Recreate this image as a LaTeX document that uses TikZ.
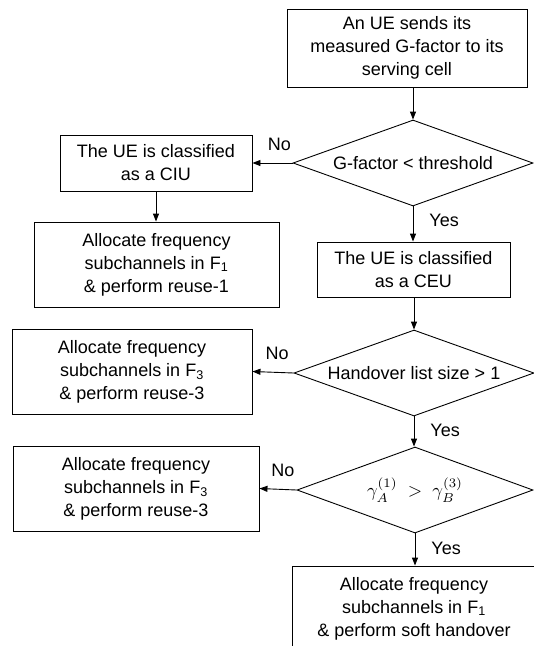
\documentclass[tikz,border=0pt]{standalone}
\usepackage{fontspec}
\setmainfont{Liberation Sans}
\usetikzlibrary{shapes.geometric,arrows.meta}

\tikzset{
    box/.style={draw, align=center, inner sep=2pt},
    test/.style={draw, diamond, aspect=2.8, inner sep=0pt, minimum width=240pt, minimum height=86pt},
    answer/.style={inner sep=0pt}
}

\begin{document}
\begin{tikzpicture}[x=1pt, y=-1pt, line width=0.9pt, >={Triangle[length=8pt,width=6pt]},
                    font=\fontsize{18}{23}\selectfont]

            \useasboundingbox (0,0) rectangle (534,646);
            \clip (0,0) rectangle (534,646);

            % Draw the main column (CEU path)
            \node[box, minimum width=240pt, minimum height=78pt] (send) at (407,48)
                {An UE sends its\\measured G-factor to its\\serving cell};
            \node[test] (gfac) at (413,163) {G-factor < threshold};
            \node[box, minimum width=193pt, minimum height=55pt] (ceu) at (413.5,269.5)
                {The UE is classified\\as a CEU};
            \node[test] (hlist) at (414,373) {Handover list size > 1};
            \node[test, minimum width=236pt] (sinr) at (415,490)
                {\scalebox{1.85}{\fontsize{10}{12}\selectfont$\gamma_A^{(1)} \;>\; \gamma_B^{(3)}$}};
            \node[box, minimum width=244pt, minimum height=85pt] (soft) at (414,608.5)
                {Allocate frequency\\subchannels in F\textsubscript{1}\\\& perform soft handover};

            % Draw the left column (CIU and reuse-3)
            \node[box, minimum width=192pt, minimum height=56pt] (ciu) at (156,163)
                {The UE is classified\\as a CIU};
            \node[box, minimum width=245pt, minimum height=85pt] (reuseone) at (156.5,264.5)
                {Allocate frequency\\subchannels in F\textsubscript{1}\\\& perform reuse-1};
            \node[box, minimum width=240pt, minimum height=85pt] (reusea) at (132,371.5)
                {Allocate frequency\\subchannels in F\textsubscript{3}\\\& perform reuse-3};
            \node[box, minimum width=246pt, minimum height=85pt] (reuseb) at (136,488.5)
                {Allocate frequency\\subchannels in F\textsubscript{3}\\\& perform reuse-3};

            % Draw the arrows
            \draw[->] (send.south -| gfac.north) -- (gfac.north);
            \draw[->] (gfac.west) -- (ciu.east)
                node[answer, pos=0.33, above=12pt] {No};
            \draw[->] (ciu.south) -- (ciu.south |- reuseone.north);
            \draw[->] (gfac.south) -- (gfac.south |- ceu.north)
                node[answer, pos=0.4, right=16pt] {Yes};
            \draw[->] (ceu.south -| hlist.north) -- (hlist.north);
            \draw[->] (hlist.west) -- (reusea.east)
                node[answer, pos=0.4, above=12pt] {No};
            \draw[->] (hlist.south) -- (hlist.south |- sinr.north)
                node[answer, pos=0.45, right=16pt] {Yes};
            \draw[->] (sinr.west) -- (reuseb.east)
                node[answer, pos=0.37, above=12pt] {No};
            \draw[->] (sinr.south) -- (sinr.south |- soft.north)
                node[answer, pos=0.45, right=16pt] {Yes};

\end{tikzpicture}
\end{document}
